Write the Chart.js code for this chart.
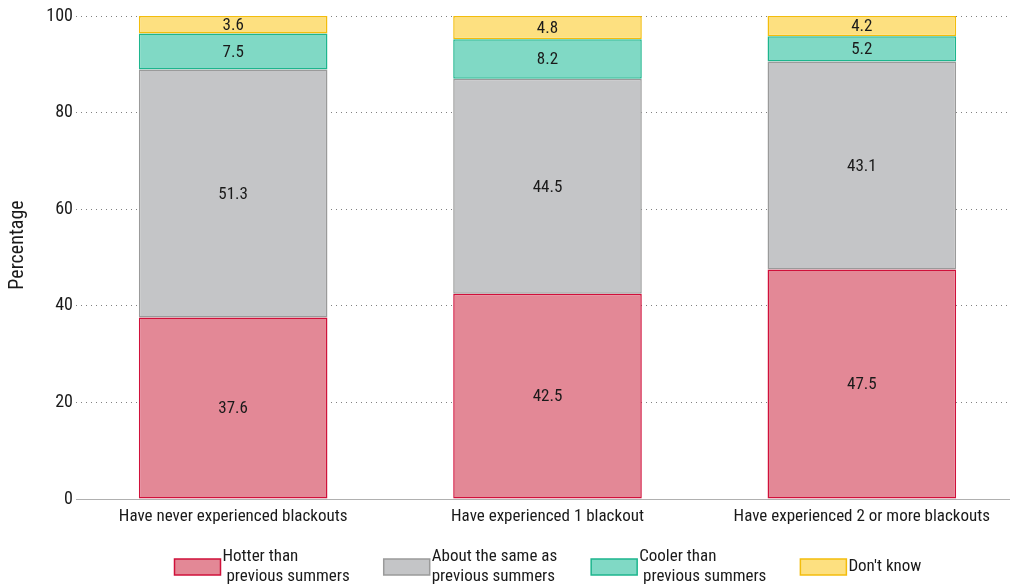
<!DOCTYPE html>
<html><head><meta charset="utf-8">
<script src="https://cdn.jsdelivr.net/npm/chart.js@4.4.1/dist/chart.umd.min.js"></script>
<style>html,body{margin:0;padding:0;background:#fff;overflow:hidden}#wrap{width:1010px;height:586px;overflow:hidden}</style>
</head><body><div id="wrap"><canvas id="c" width="1020" height="586"></canvas></div>
<script>
const categories = ["Have never experienced blackouts", "Have experienced 1 blackout", "Have experienced 2 or more blackouts"];
const seriesNames = [["Hotter than", " previous summers"], ["About the same as", "previous summers"], ["Cooler than", " previous summers"], ["Don't know"]];
const hotter = [37.6, 42.5, 47.5];
const same = [51.3, 44.5, 43.1];
const cooler = [7.5, 8.2, 5.2];
const dontKnow = [3.6, 4.8, 4.2];
const yTicks = [0, 20, 40, 60, 80, 100];
const yTitle = "Percentage";

const FONT = "'Roboto Condensed', 'Liberation Sans', Arial, sans-serif";
const fills = ["#e38896", "#c4c5c7", "#80d9c5", "#fde080"];
const borders = ["#d0103a", "#9a9a9a", "#1db58d", "#f3bd0c"];
const values = [hotter, same, cooler, dontKnow];

const datasets = values.map((v, i) => ({
  label: seriesNames[i].join(" "),
  data: v,
  backgroundColor: fills[i],
  borderColor: borders[i],
  borderWidth: 1.5,
  borderSkipped: false,
  barPercentage: 0.6,
  categoryPercentage: 1.0
}));

const labelPlugin = {
  id: 'segLabels',
  afterDatasetsDraw(chart) {
    const ctx = chart.ctx;
    ctx.save();
    ctx.font = "17px " + FONT;
    ctx.fillStyle = "#1a1a1a";
    ctx.textAlign = "center";
    ctx.textBaseline = "middle";
    chart.data.datasets.forEach((ds, di) => {
      const meta = chart.getDatasetMeta(di);
      meta.data.forEach((bar, i) => {
        const p = bar.getProps(['x', 'y', 'base'], true);
        ctx.fillText(ds.data[i].toFixed(1), p.x, (p.y + p.base) / 2 + 1);
      });
    });
    ctx.restore();
  }
};

const titlePlugin = {
  id: 'yTitle',
  afterDraw(chart) {
    const ctx = chart.ctx;
    ctx.save();
    ctx.translate(18, 245);
    ctx.rotate(-Math.PI / 2);
    ctx.font = "20px " + FONT;
    ctx.fillStyle = "#1a1a1a";
    ctx.textAlign = "center";
    ctx.textBaseline = "middle";
    ctx.fillText(yTitle, 0, 0);
    ctx.restore();
  }
};

const legendPlugin = {
  id: 'customLegend',
  afterDraw(chart) {
    const ctx = chart.ctx;
    ctx.save();
    ctx.font = "17px " + FONT;
    const boxW = 46, boxH = 16, gapText = 2, gapItem = 34, lineH = 20;
    const widths = seriesNames.map(lines => Math.max(...lines.map(l => ctx.measureText(l).width)));
    const total = widths.reduce((a, w) => a + boxW + gapText + w, 0) + gapItem * (widths.length - 1);
    const ca = chart.chartArea;
    let x = Math.round((ca.left + ca.right) / 2 - total / 2) + 0.5;
    const cy = 567;
    seriesNames.forEach((lines, i) => {
      ctx.fillStyle = fills[i];
      ctx.strokeStyle = borders[i];
      ctx.lineWidth = 1.5;
      ctx.fillRect(x, cy - boxH / 2, boxW, boxH);
      ctx.strokeRect(x, cy - boxH / 2, boxW, boxH);
      ctx.fillStyle = "#1a1a1a";
      ctx.textAlign = "left";
      ctx.textBaseline = "middle";
      const startY = cy - (lines.length - 1) * lineH / 2;
      lines.forEach((l, k) => ctx.fillText(l, x + boxW + gapText, startY + k * lineH));
      x += boxW + gapText + widths[i] + gapItem;
    });
    ctx.restore();
  }
};

new Chart(document.getElementById('c'), {
  type: 'bar',
  data: { labels: categories, datasets },
  options: {
    responsive: false,
    animation: false,
    layout: { padding: { top: 16, right: 1, bottom: 0, left: 0 } },
    plugins: { legend: { display: false }, tooltip: { enabled: false } },
    scales: {
      x: {
        stacked: true,
        afterFit(s) { s.height = 87; },
        grid: { display: false, drawTicks: false },
        border: { display: true, color: '#b0b0b0', width: 1 },
        ticks: { color: '#1a1a1a', font: { size: 17, family: FONT }, padding: 8, maxRotation: 0, autoSkip: false }
      },
      y: {
        stacked: true,
        min: 0, max: 100,
        afterBuildTicks(s) { s.ticks = yTicks.map(v => ({ value: v })); },
        afterFit(s) { s.width = 76; },
        grid: { color: '#808080', lineWidth: 1, drawTicks: false },
        border: { display: false, dash: [1, 4] },
        ticks: { color: '#1a1a1a', font: { size: 18, family: FONT }, padding: 3 },
        title: { display: false }
      }
    }
  },
  plugins: [labelPlugin, titlePlugin, legendPlugin]
});
</script></body></html>
